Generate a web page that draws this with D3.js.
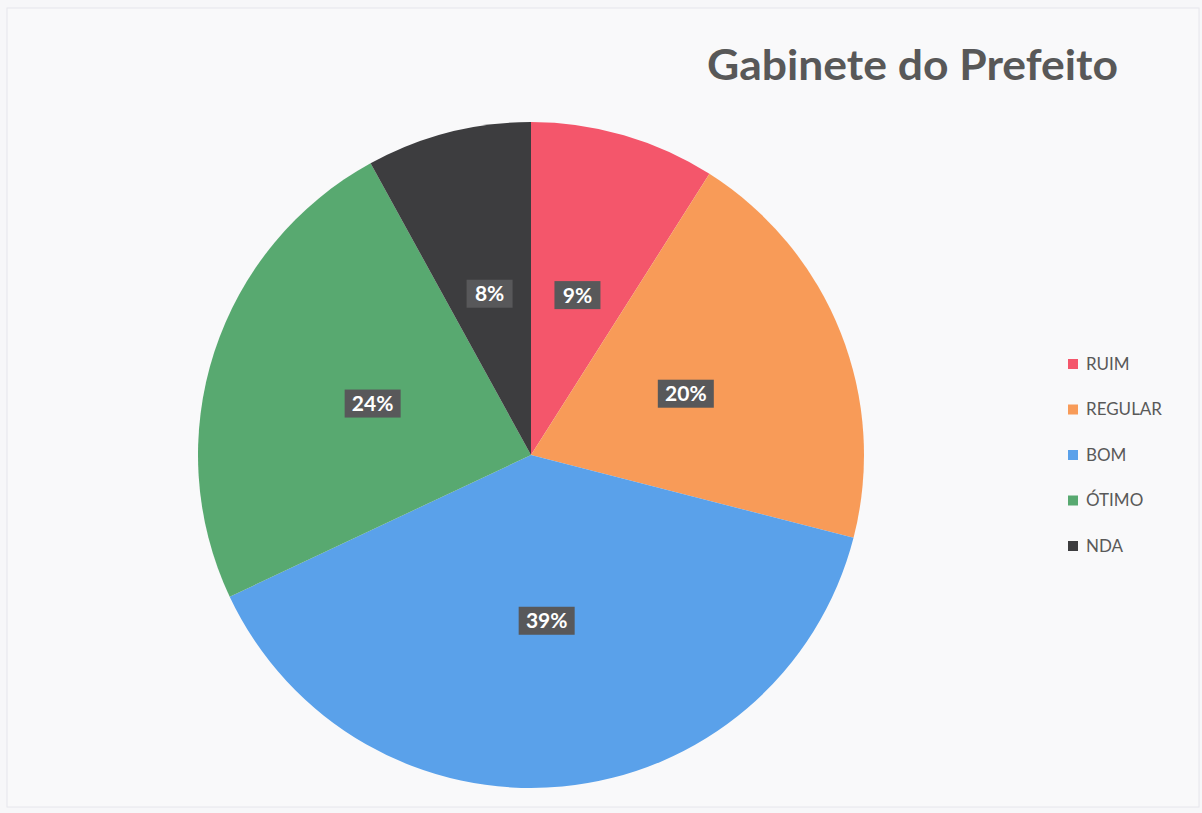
<!DOCTYPE html>
<html>
<head>
<meta charset="utf-8">
<script src="https://cdn.jsdelivr.net/npm/d3@7"></script>
<style>
  html, body { margin: 0; padding: 0; background: #fff; }
  svg { display: block; }
</style>
</head>
<body>
<div id="chart"></div>
<script>
const categories = ['RUIM', 'REGULAR', 'BOM', 'ÓTIMO', 'NDA'];
const values = [9, 20, 39, 24, 8];
const colors = ['#f4566b', '#f89b58', '#5aa1ea', '#58a970', '#3d3d3f'];
const title = 'Gabinete do Prefeito';

const W = 1202, H = 813;
const cx = 531, cy = 455, radius = 333;
const FONT = 'Lato, Open Sans, sans-serif';

const svg = d3.select('#chart').append('svg')
    .attr('width', W)
    .attr('height', H);

// slide-ish background with a faint border
svg.append('rect')
    .attr('x', 0).attr('y', 0).attr('width', W).attr('height', H)
    .attr('fill', '#f7f7f9');
svg.append('rect')
    .attr('x', 7).attr('y', 8).attr('width', W - 10).attr('height', H - 14)
    .attr('fill', '#f9f9fa')
    .attr('stroke', '#e6e6ec');

const titleText = svg.append('text')
    .attr('x', 1118)
    .attr('y', 80)
    .attr('text-anchor', 'end')
    .attr('font-family', FONT)
    .attr('font-weight', 700)
    .attr('font-size', 42)
    .attr('fill', '#585858')
    .text(title);

// keep the title spanning the same width as the original
const tw = titleText.node().getComputedTextLength();
if (Math.abs(tw - 411) > 6) {
    titleText.attr('textLength', 411).attr('lengthAdjust', 'spacingAndGlyphs');
}

const data = categories.map((c, i) => ({ name: c, value: values[i], color: colors[i] }));

const pie = d3.pie()
    .value(d => d.value)
    .sort(null);

const arc = d3.arc().innerRadius(0).outerRadius(radius);

const g = svg.append('g').attr('transform', `translate(${cx},${cy})`);
const arcs = pie(data);

g.selectAll('path.slice')
    .data(arcs)
    .join('path')
    .attr('class', 'slice')
    .attr('d', arc)
    .attr('fill', d => d.data.color);

// data labels: white bold text on a dark gray box
const labels = g.selectAll('g.label')
    .data(arcs)
    .join('g')
    .attr('class', 'label')
    .attr('transform', d => `translate(${arc.centroid(d)})`);

labels.append('rect')
    .attr('x', d => d.data.value >= 10 ? -28 : -23)
    .attr('y', -14)
    .attr('width', d => d.data.value >= 10 ? 56 : 46)
    .attr('height', 28)
    .attr('fill', '#58585a');

labels.append('text')
    .attr('text-anchor', 'middle')
    .attr('dy', '0.36em')
    .attr('font-family', FONT)
    .attr('font-weight', 700)
    .attr('font-size', 21)
    .attr('fill', '#ffffff')
    .text(d => `${d.data.value}%`);

// legend
const legend = svg.append('g').attr('transform', 'translate(1068,364)');
const rows = legend.selectAll('g')
    .data(data)
    .join('g')
    .attr('transform', (d, i) => `translate(0,${i * 45.5})`);

rows.append('rect')
    .attr('x', 0).attr('y', -5)
    .attr('width', 10).attr('height', 10)
    .attr('fill', d => d.color);

rows.append('text')
    .attr('x', 18)
    .attr('dy', '0.35em')
    .attr('font-family', FONT)
    .attr('font-size', 17)
    .attr('fill', '#595959')
    .text(d => d.name);
</script>
</body>
</html>
